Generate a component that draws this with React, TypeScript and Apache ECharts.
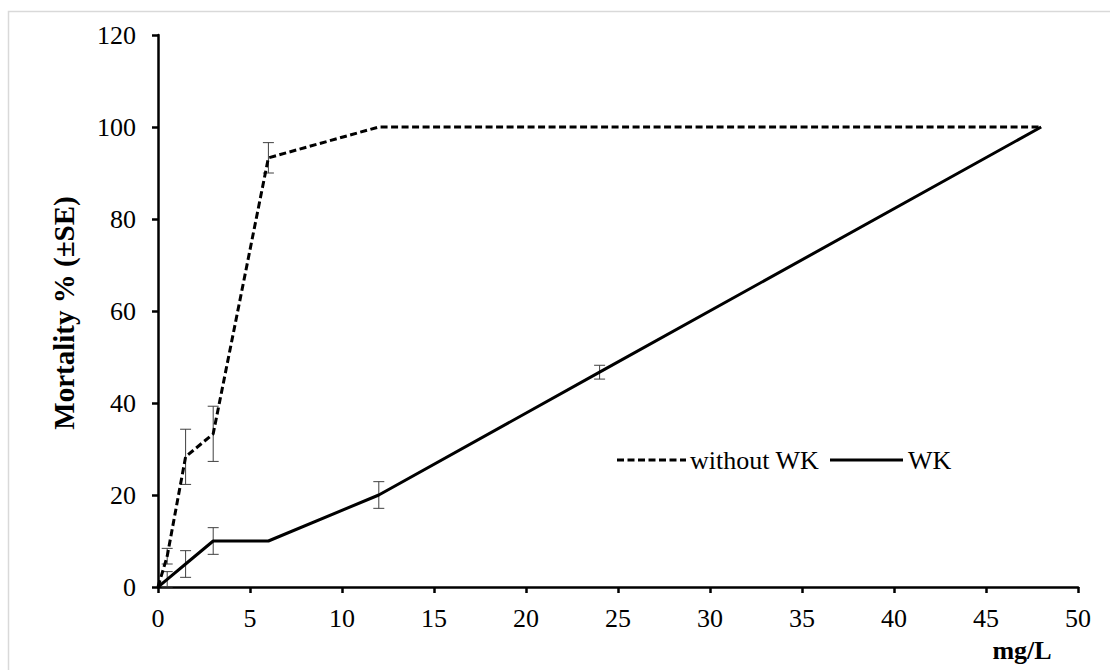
import React, { useEffect, useRef } from "react";
import * as echarts from "echarts";

const concentrations = [0, 0.5, 1.5, 3, 6, 12, 24, 48];
const withoutWK = [0, 6.7, 28.3, 33.3, 93.3, 100, 100, 100];
const withoutWKSE = [0, 1.7, 6.0, 6.0, 3.3, 0, 0, 0];
const wk = [0, 1.67, 5, 10, 10, 20, 46.7, 100];
const wkSE = [0, 1.67, 2.9, 2.9, 0, 2.9, 1.5, 0];
const xTicks = { min: 0, max: 50, interval: 5 };
const yTicks = { min: 0, max: 120, interval: 20 };

const FONT = "'Liberation Serif', 'Times New Roman', serif";

export default function App() {
  const ref = useRef<HTMLDivElement>(null);
  useEffect(() => {
    if (!ref.current) return;
    const chart = echarts.init(ref.current, null, { renderer: "svg" });
    const lineData = (ys: number[]) => concentrations.map((x, i) => [x, ys[i]]);
    const errData = (ys: number[], es: number[]) =>
      concentrations.map((x, i) => [x, ys[i], es[i]]).filter((d) => d[2] > 0);
    const renderErr = (params: any, api: any) => {
      const x = api.value(0);
      const y = api.value(1);
      const e = api.value(2);
      const top = api.coord([x, y + e]);
      const bot = api.coord([x, y - e]);
      const hw = 5.5;
      const st = { stroke: "#404040", lineWidth: 1 };
      return {
        type: "group",
        children: [
          { type: "line", shape: { x1: top[0], y1: top[1], x2: bot[0], y2: bot[1] }, style: st },
          { type: "line", shape: { x1: top[0] - hw, y1: top[1], x2: top[0] + hw, y2: top[1] }, style: st },
          { type: "line", shape: { x1: bot[0] - hw, y1: bot[1], x2: bot[0] + hw, y2: bot[1] }, style: st },
        ],
      };
    };
    const axisCommon = {
      axisLine: { show: true, lineStyle: { color: "#000", width: 2.5 } },
      axisTick: { show: true, inside: false, length: 6, lineStyle: { color: "#000", width: 2.5 } },
      splitLine: { show: false },
    };
    chart.setOption({
      animation: false,
      backgroundColor: "#fff",
      grid: { left: 158, right: 32, top: 35, bottom: 83, containLabel: false },
      xAxis: {
        type: "value",
        ...xTicks,
        ...axisCommon,
        axisLabel: { color: "#000", fontFamily: FONT, fontSize: 26, margin: 18 },
      },
      yAxis: {
        type: "value",
        ...yTicks,
        ...axisCommon,
        axisLabel: { color: "#000", fontFamily: FONT, fontSize: 26, margin: 22 },
      },
      graphic: [
        {
          type: "rect",
          shape: { x: 8.5, y: 11.5, width: 1200, height: 800 },
          style: { fill: "none", stroke: "#d9d9d9", lineWidth: 1.5 },
          silent: true,
          z: -10,
        },
        {
          type: "text",
          x: 64,
          y: 313,
          rotation: Math.PI / 2,
          style: {
            text: "Mortality % (±SE)",
            font: `bold 29px ${FONT}`,
            fill: "#000",
            align: "center",
            verticalAlign: "middle",
          },
        },
        {
          type: "text",
          x: 1022,
          y: 650,
          style: {
            text: "mg/L",
            font: `bold 26px ${FONT}`,
            fill: "#000",
            align: "center",
            verticalAlign: "middle",
          },
        },
        {
          type: "line",
          shape: { x1: 617, y1: 460, x2: 686, y2: 460 },
          style: { stroke: "#000", lineWidth: 3, lineDash: [7, 3.5] },
        },
        {
          type: "text",
          x: 690,
          y: 460,
          style: {
            text: "without WK",
            font: `26px ${FONT}`,
            fill: "#000",
            align: "left",
            verticalAlign: "middle",
          },
        },
        {
          type: "line",
          shape: { x1: 830, y1: 460, x2: 903, y2: 460 },
          style: { stroke: "#000", lineWidth: 3 },
        },
        {
          type: "text",
          x: 908,
          y: 460,
          style: {
            text: "WK",
            font: `26px ${FONT}`,
            fill: "#000",
            align: "left",
            verticalAlign: "middle",
          },
        },
      ],
      series: [
        {
          name: "without WK",
          type: "line",
          data: lineData(withoutWK),
          symbol: "none",
          lineStyle: { color: "#000", width: 3, type: [7, 3.5] },
          z: 3,
        },
        {
          name: "WK",
          type: "line",
          data: lineData(wk),
          symbol: "none",
          lineStyle: { color: "#000", width: 3, type: "solid" },
          z: 3,
        },
        {
          name: "without WK SE",
          type: "custom",
          data: errData(withoutWK, withoutWKSE),
          renderItem: renderErr,
          z: 2,
        },
        {
          name: "WK SE",
          type: "custom",
          data: errData(wk, wkSE),
          renderItem: renderErr,
          z: 2,
        },
      ],
    });
    return () => chart.dispose();
  }, []);
  return (
    <div
      ref={ref}
      style={{ position: "absolute", left: 0, top: 0, width: 1110, height: 670 }}
    />
  );
}
